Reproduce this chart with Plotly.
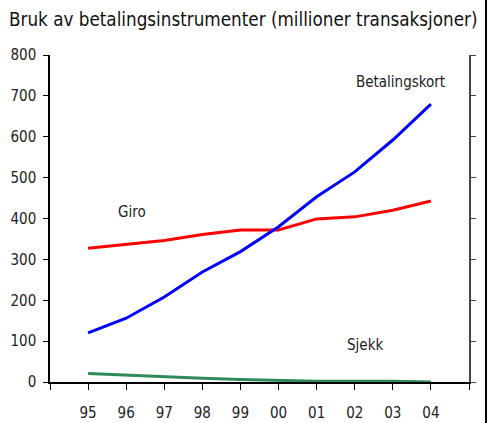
import plotly.graph_objects as go

years = ["95", "96", "97", "98", "99", "00", "01", "02", "03", "04"]
betalingskort = [120, 156, 208, 269, 319, 380, 453, 514, 592, 680]
giro = [327, 337, 346, 361, 372, 372, 399, 404, 420, 443]
sjekk = [21, 17, 12, 9, 6, 4, 2, 2, 2, 0]
y_ticks = [0, 100, 200, 300, 400, 500, 600, 700, 800]

FONT = "DejaVu Sans Condensed, Liberation Sans Narrow, Arial Narrow, sans-serif"
idx = list(range(len(years)))

fig = go.Figure()
fig.add_trace(go.Scatter(x=idx, y=giro, mode="lines", line=dict(color="#ff0000", width=3), name="Giro"))
fig.add_trace(go.Scatter(x=idx, y=betalingskort, mode="lines", line=dict(color="#0000ff", width=3), name="Betalingskort"))
fig.add_trace(go.Scatter(x=idx, y=sjekk, mode="lines", line=dict(color="#2e8b57", width=3), name="Sjekk"))
fig.add_trace(go.Scatter(x=[None], y=[None], yaxis="y2", showlegend=False, hoverinfo="skip"))

for text, x, y in [("Betalingskort", 8.2, 734), ("Giro", 1.15, 416), ("Sjekk", 7.27, 90)]:
    fig.add_annotation(x=x, y=y, text=text, showarrow=False, font=dict(family=FONT, size=15, color="#222"))

fig.add_annotation(xref="paper", yref="paper", x=-43/419, y=1 + 35/327, xanchor="left", yanchor="middle",
                   text="Bruk av betalingsinstrumenter (millioner transaksjoner)", showarrow=False,
                   font=dict(family=FONT, size=18.7, color="#111"))

fig.add_shape(type="line", xref="paper", yref="paper", x0=1 + 17/419, x1=1 + 17/419,
              y0=-0.13, y1=1.17, line=dict(color="black", width=2), layer="above")

tickvals = list(range(-1, len(years) + 1))
ticktext = [""] + years + [""]
fig.update_layout(
    width=489, height=423,
    margin=dict(l=50, r=20, t=55, b=41),
    plot_bgcolor="white", paper_bgcolor="white",
    showlegend=False,
    font=dict(family=FONT, size=15, color="#222"),
    xaxis=dict(range=[-1, 10], tickvals=tickvals, ticktext=ticktext, showgrid=False, zeroline=False,
               showline=True, linecolor="black", linewidth=1.5, ticks="outside", ticklen=6,
               tickcolor="black", ticklabelstandoff=10, automargin=False),
    yaxis=dict(range=[0, 800], tickvals=y_ticks, showgrid=False, zeroline=False,
               showline=True, linecolor="black", linewidth=1.5, ticks="outside", ticklen=5,
               tickcolor="black", ticklabelstandoff=4, automargin=False),
    yaxis2=dict(range=[0, 800], tickvals=y_ticks, overlaying="y", side="right", showgrid=False,
                zeroline=False, showline=True, linecolor="#444", linewidth=1.5, ticks="outside",
                ticklen=5, tickcolor="#444", showticklabels=False, automargin=False),
)
fig.write_html("out.html", config={"displayModeBar": False},
               post_script="document.body.style.margin='0';document.body.style.overflow='hidden';")
